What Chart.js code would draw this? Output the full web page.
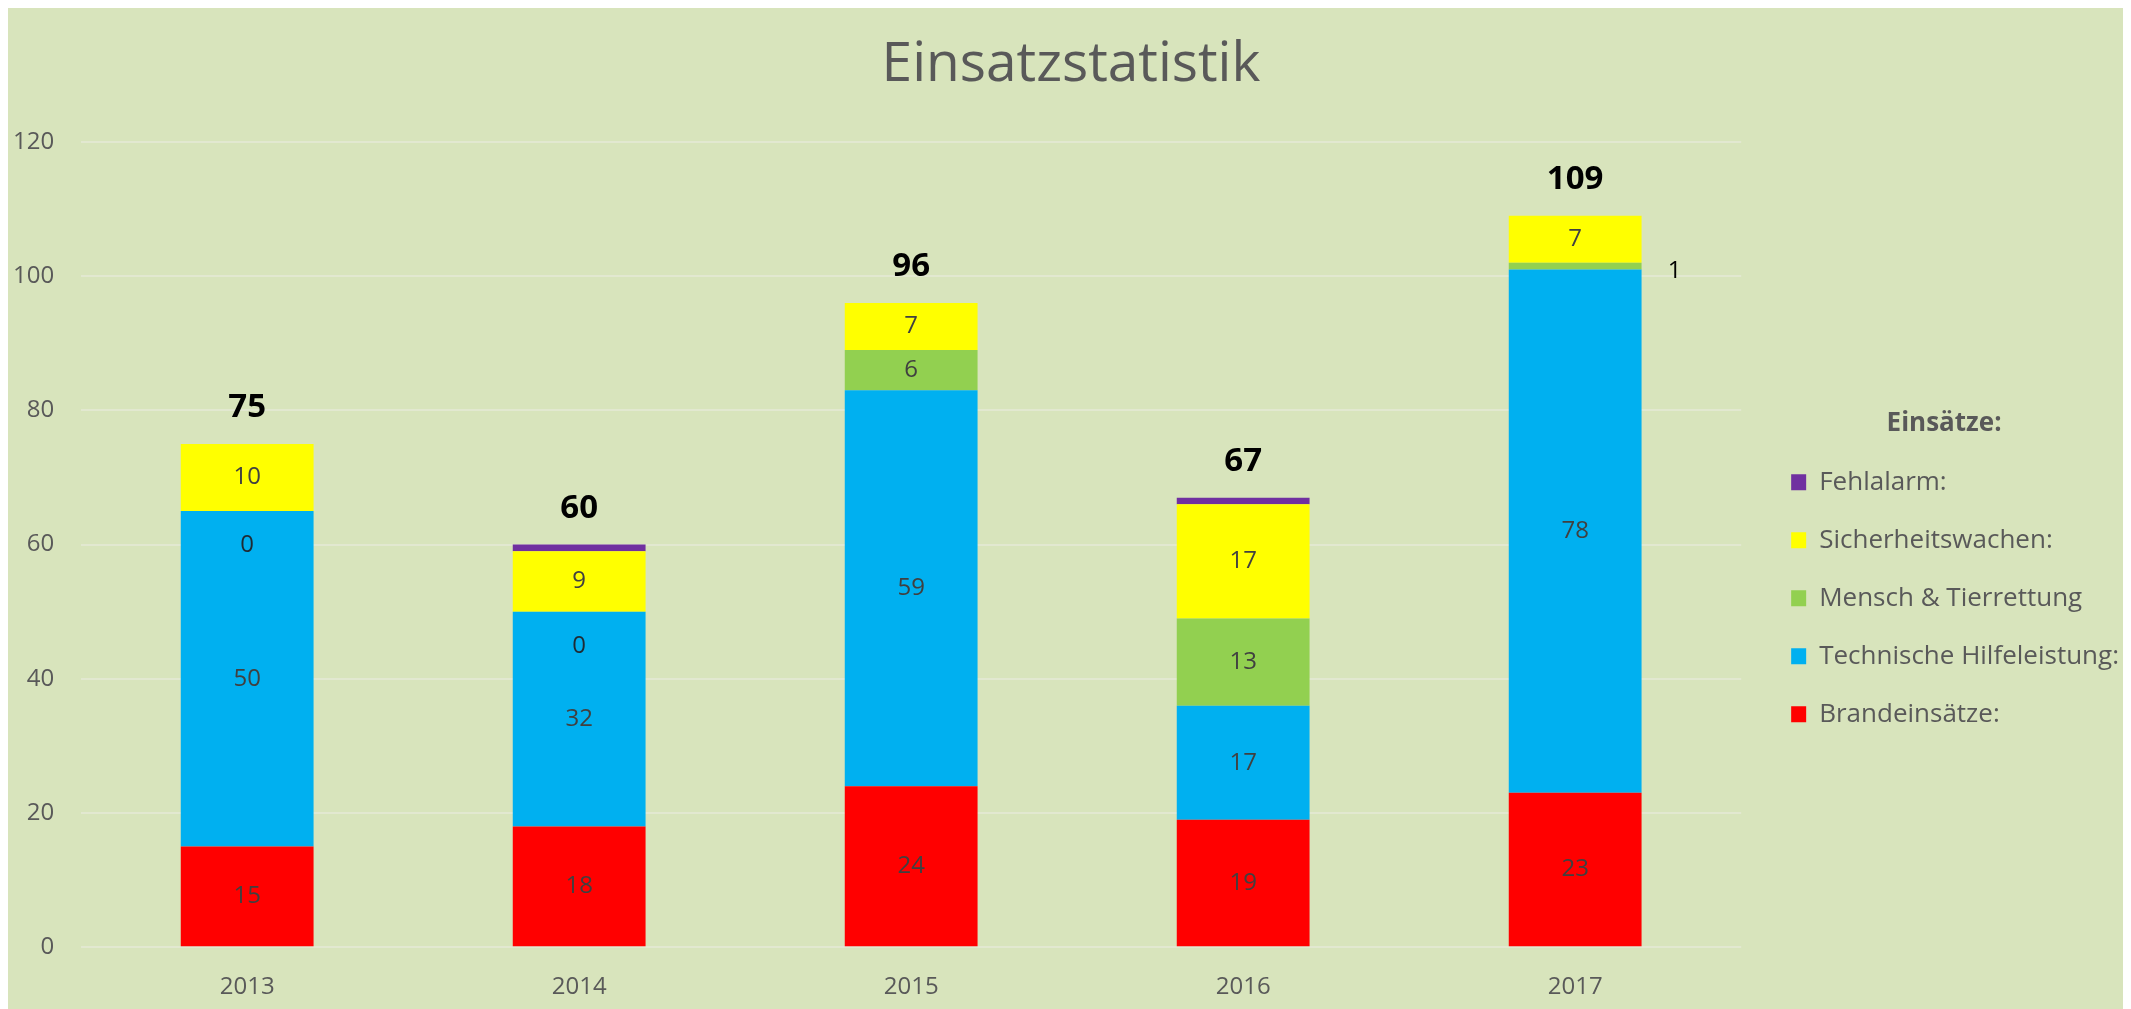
<!DOCTYPE html>
<html>
<head>
<meta charset="utf-8">
<script src="https://cdn.jsdelivr.net/npm/chart.js@4/dist/chart.umd.min.js"></script>
<style>
    body { margin: 8px; background: #ffffff; }
    canvas { display: block; }
</style>
</head>
<body>
<canvas id="einsatzChart" width="2123" height="1001"></canvas>
<script>
// Data
const years = ['2013', '2014', '2015', '2016', '2017'];
const brandeinsaetze = [15, 18, 24, 19, 23];
const technischeHilfe = [50, 32, 59, 17, 78];
const menschTier = [0, 0, 6, 13, 1];
const sicherheitswachen = [10, 9, 7, 17, 7];
const fehlalarm = [0, 1, 0, 1, 0];
const yTicks = [0, 20, 40, 60, 80, 100, 120];

const bgColor = '#d8e4bc';
const textColor = '#595959';
const fontFamily = "'Open Sans', sans-serif";

let einsatzChart;

// Excel style value labels + totals
const valueLabels = {
    id: 'valueLabels',
    afterDatasetsDraw: (chart) => {
        const ctx = chart.ctx;
        const yScale = chart.scales.y;
        ctx.save();
        ctx.textAlign = 'center';
        ctx.textBaseline = 'middle';
        ctx.font = '24px ' + fontFamily;

        // skip the Fehlalarm series (last one), Excel shows no labels there
        for (let d = 0; d < 4; d++) {
            const meta = chart.getDatasetMeta(d);
            const values = chart.data.datasets[d].data;
            meta.data.forEach((bar, i) => {
                const v = values[i];
                const h = Math.abs(bar.base - bar.y);
                if (v === 0) {
                    ctx.fillStyle = '#1f2a33';
                    ctx.fillText(v, bar.x, bar.y + 34);
                } else if (h < 20) {
                    ctx.fillStyle = '#000000';
                    ctx.fillText(v, bar.x + bar.width / 2 + 33, (bar.y + bar.base) / 2 + 5);
                } else {
                    ctx.fillStyle = '#404040';
                    ctx.fillText(v, bar.x, (bar.y + bar.base) / 2);
                }
            });
        }

        // totals above each stack
        ctx.font = 'bold 33px ' + fontFamily;
        ctx.fillStyle = '#000000';
        const xMeta = chart.getDatasetMeta(0);
        years.forEach((year, i) => {
            let total = 0;
            chart.data.datasets.forEach(ds => { total += ds.data[i]; });
            ctx.fillText(total, xMeta.data[i].x, yScale.getPixelForValue(total) - 36);
        });
        ctx.restore();
    }
};

const canvasBg = {
    id: 'canvasBg',
    beforeDraw: (chart) => {
        const ctx = chart.canvas.getContext('2d');
        ctx.save();
        ctx.globalCompositeOperation = 'destination-over';
        ctx.fillStyle = bgColor;
        ctx.fillRect(0, 0, chart.width, chart.height);
        ctx.restore();
    }
};

const barOpts = {
    borderWidth: 0,
    barPercentage: 0.4,
    categoryPercentage: 1.0
};

function createChart() {
    einsatzChart = new Chart(document.getElementById('einsatzChart'), {
        type: 'bar',
        data: {
            labels: years,
            datasets: [
                { label: 'Brandeinsätze:', data: brandeinsaetze, backgroundColor: '#ff0000', ...barOpts },
                { label: 'Technische Hilfeleistung:', data: technischeHilfe, backgroundColor: '#00b0f0', ...barOpts },
                { label: 'Mensch & Tierrettung', data: menschTier, backgroundColor: '#92d050', ...barOpts },
                { label: 'Sicherheitswachen:', data: sicherheitswachen, backgroundColor: '#ffff00', ...barOpts },
                { label: 'Fehlalarm:', data: fehlalarm, backgroundColor: '#7030a0', ...barOpts }
            ]
        },
        plugins: [canvasBg, valueLabels],
        options: {
            responsive: false,
            animation: false,
            layout: {
                padding: { left: 5, right: 2, bottom: 7 }
            },
            scales: {
                x: {
                    stacked: true,
                    grid: { display: false, drawTicks: false },
                    border: { display: false },
                    ticks: {
                        color: textColor,
                        padding: 26,
                        font: { family: fontFamily, size: 24 }
                    },
                    // chart.js counts tick padding twice
                    afterFit: (scale) => { scale.height -= 26; }
                },
                y: {
                    stacked: true,
                    min: yTicks[0],
                    max: yTicks[yTicks.length - 1],
                    afterBuildTicks: (scale) => {
                        scale.ticks = yTicks.map(v => ({ value: v }));
                    },
                    grid: { color: '#e2e8d0', lineWidth: 2, drawTicks: false },
                    border: { display: false },
                    ticks: {
                        color: textColor,
                        padding: 27,
                        font: { family: fontFamily, size: 24 }
                    },
                    afterFit: (scale) => { scale.width -= 27; }
                },
                // empty spacer between plot area and legend
                spacer: {
                    position: 'right',
                    display: true,
                    grid: { display: false },
                    border: { display: false },
                    ticks: { display: false },
                    afterFit: (scale) => { scale.width = 18; }
                }
            },
            plugins: {
                title: {
                    display: true,
                    text: 'Einsatzstatistik',
                    color: textColor,
                    font: { family: fontFamily, size: 55, weight: 'normal' },
                    padding: { top: 24, bottom: 44 }
                },
                legend: {
                    display: true,
                    position: 'right',
                    align: 'start',
                    reverse: true,
                    maxWidth: 420,
                    title: {
                        display: true,
                        text: 'Einsätze:',
                        color: textColor,
                        font: { family: fontFamily, size: 26, weight: 'bold' },
                        padding: { top: 403, bottom: -5 }
                    },
                    labels: {
                        color: textColor,
                        boxWidth: 15,
                        boxHeight: 16,
                        padding: 32,
                        font: { family: fontFamily, size: 26 }
                    }
                },
                tooltip: { enabled: false }
            }
        }
    });
}

// make sure text is measured with the real font
Promise.all([
    document.fonts.load("26px 'Open Sans'"),
    document.fonts.load("bold 26px 'Open Sans'")
]).then(createChart, createChart);
</script>
</body>
</html>
